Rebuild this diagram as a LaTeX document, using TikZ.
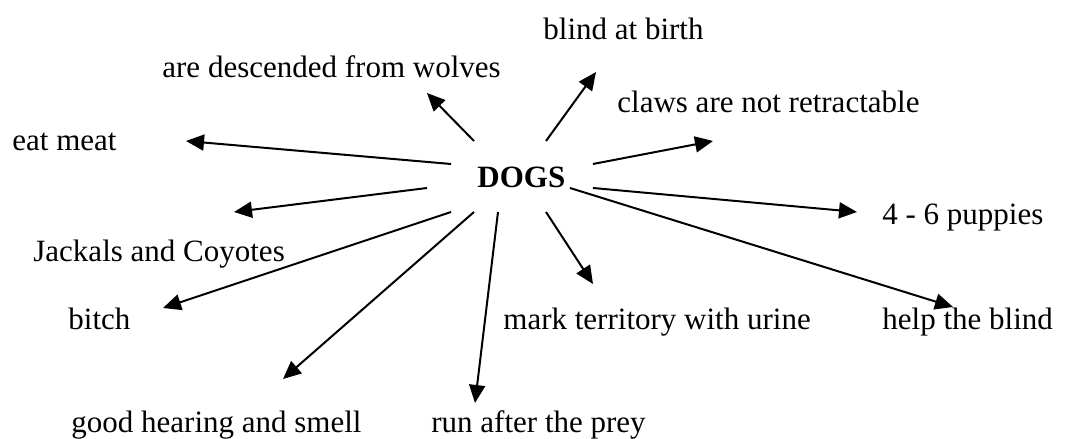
\documentclass[tikz,border=0pt]{standalone}
\usepackage{fontspec}
\setmainfont{Liberation Serif}
\usetikzlibrary{arrows.meta}
\begin{document}
\begin{tikzpicture}[x=0.5bp,y=-0.5bp,
  lbl/.style={anchor=base west,inner sep=0pt,font=\fontsize{15.5bp}{18bp}\selectfont},
  hub/.style={anchor=base west,inner sep=0pt,font=\fontsize{15.5bp}{18bp}\selectfont\bfseries},
  link/.style={line width=1bp,-{Triangle[length=9bp,width=8bp]}}]
\useasboundingbox (0,0) rectangle (1066,439);
\node[hub] (dogs) at (477,188) {DOGS};
\node[lbl] (wolves) at (162,78) {are descended from wolves};
\node[lbl] (blind) at (543,40) {blind at birth};
\node[lbl] (claws) at (617,113) {claws are not retractable};
\node[lbl] (eat) at (12,151) {eat meat};
\node[lbl] (pup) at (882,225) {4 - 6 puppies};
\node[lbl] (jack) at (33,262) {Jackals and Coyotes};
\node[lbl] (bitch) at (68,330) {bitch};
\node[lbl] (mark) at (503,330) {mark territory with urine};
\node[lbl] (help) at (882,330) {help the blind};
\node[lbl] (good) at (71,433) {good hearing and smell};
\node[lbl] (run) at (431,433) {run after the prey};
% arrow ends
\coordinate (t1) at (474,141); \coordinate (h1) at (427,93);
\coordinate (t2) at (546,141); \coordinate (h2) at (596,72);
\coordinate (t3) at (593,164); \coordinate (h3) at (713,141);
\coordinate (t4) at (451,164); \coordinate (h4) at (186,141);
\coordinate (t5) at (593,188); \coordinate (h5) at (857,212);
\coordinate (t6) at (427,188); \coordinate (h6) at (234,212);
\coordinate (t7) at (570,188); \coordinate (h7) at (953,307);
\coordinate (t8) at (451,212); \coordinate (h8) at (163,308);
\coordinate (t9) at (474,212); \coordinate (h9) at (283,379);
\coordinate (t10) at (498,212); \coordinate (h10) at (475,403);
\coordinate (t11) at (546,212); \coordinate (h11) at (593,284);
\foreach \i in {1,...,11} \draw[link] (t\i) -- (h\i);
\end{tikzpicture}
\end{document}
